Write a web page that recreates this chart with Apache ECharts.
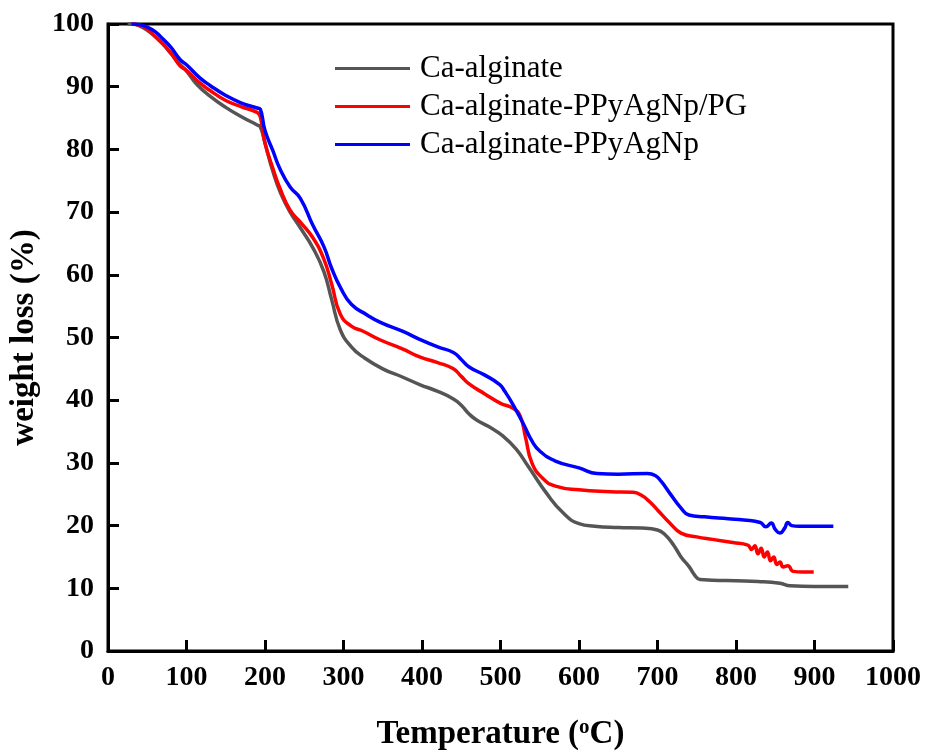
<!DOCTYPE html>
<html>
<head>
<meta charset="utf-8">
<script src="https://cdn.jsdelivr.net/npm/echarts@6/dist/echarts.min.js"></script>
<style>
html, body { margin: 0; padding: 0; background: #fff; }
#chart0 { width: 936px; height: 756px; }
</style>
</head>
<body>
<div id="chart0"></div>
<script>
'use strict';

// Ca-alginate
var gray_t = [25, 30, 40, 50, 60, 70, 80, 90, 100, 113, 130, 150, 170, 190, 194, 200, 210, 220, 232, 245, 261, 275, 285, 296, 310, 325, 350, 375, 397, 420, 440, 450, 460, 470, 485, 503, 520, 535, 559, 580, 600, 620, 650, 680, 700, 710, 720, 730, 740, 748, 754, 770, 800, 828, 856, 869, 900, 943];
var gray_w = [100, 100, 99.7, 99, 98, 96.8, 95.3, 93.8, 92.5, 90.4, 88.5, 86.7, 85.2, 83.9, 83.6, 81, 76.5, 73, 70, 67.5, 64.3, 60.5, 56, 51.2, 48.5, 46.9, 45, 43.7, 42.5, 41.4, 40.2, 39.2, 37.8, 36.8, 35.8, 34.3, 32.2, 29.5, 25.1, 22, 20.3, 19.9, 19.7, 19.6, 19.3, 18.5, 17, 15, 13.5, 12, 11.4, 11.3, 11.2, 11.1, 10.8, 10.4, 10.3, 10.3];

// Ca-alginate-PPyAgNp/PG
var red_t = [30, 40, 50, 60, 70, 80, 92, 100, 117, 130, 150, 170, 190, 194, 200, 210, 219, 232, 245, 261, 275, 285, 296, 310, 325, 347, 375, 397, 420, 440, 450, 460, 480, 500, 516, 525, 532, 540, 554, 570, 600, 640, 669, 680, 690, 700, 715, 730, 750, 770, 796, 815, 820, 824, 828, 832, 836, 840, 844, 848, 852, 856, 860, 866, 873, 885, 899];
var red_w = [100, 99.8, 99.2, 98, 96.8, 95.4, 93.3, 92.6, 90.6, 89.4, 87.8, 86.8, 85.9, 85.2, 81, 77, 73.8, 70.3, 68.4, 65.9, 62.5, 58.5, 53.7, 51.8, 51, 49.6, 48.2, 46.9, 46, 45, 43.8, 42.6, 41, 39.5, 38.7, 37.5, 34, 30, 27.5, 26.3, 25.7, 25.4, 25.3, 24.8, 23.8, 22.5, 20.5, 18.8, 18.2, 17.8, 17.3, 16.9, 16.2, 16.8, 15.5, 16.4, 15.0, 15.8, 14.4, 15.0, 13.8, 14.2, 13.4, 13.6, 12.7, 12.6, 12.6];

// Ca-alginate-PPyAgNp
var blue_t = [30, 40, 50, 60, 70, 80, 92, 100, 117, 130, 150, 170, 190, 194, 200, 210, 219, 232, 245, 261, 275, 285, 296, 310, 330, 347, 375, 397, 420, 440, 450, 460, 480, 499, 505, 515, 530, 540, 550, 570, 600, 623, 650, 687, 697, 705, 716, 730, 740, 760, 790, 810, 831, 838, 845, 850, 856, 862, 866, 871, 880, 924];
var blue_w = [100, 99.9, 99.5, 98.8, 97.6, 96.3, 94.3, 93.5, 91.4, 90.2, 88.6, 87.4, 86.6, 86.4, 83, 79.8, 76.9, 74, 72.2, 67.9, 64.5, 61, 58, 55.3, 53.6, 52.4, 51, 49.7, 48.5, 47.6, 46.5, 45.3, 44, 42.5, 41.5, 39.5, 36, 33.5, 31.9, 30.3, 29.2, 28.3, 28.2, 28.3, 28.0, 27.0, 25.1, 22.8, 21.7, 21.4, 21.1, 20.9, 20.5, 19.8, 20.4, 19.4, 18.8, 19.6, 20.5, 20.0, 19.9, 19.9];

var series_names = ['Ca-alginate', 'Ca-alginate-PPyAgNp/PG', 'Ca-alginate-PPyAgNp'];
var series_colors = ['#555555', '#ff0000', '#0000ff'];

function pairs(t, w) {
	var out = [];
	for (var i = 0; i < t.length; i++) {
		out.push([t[i], w[i]]);
	}
	return out;
}

var font = '"Liberation Serif", "Times New Roman", serif';
var all_data = [pairs(gray_t, gray_w), pairs(red_t, red_w), pairs(blue_t, blue_w)];

var chart0 = echarts.init(document.getElementById('chart0'));
var series_list = [];
for (var k = 0; k < 3; k++) {
	series_list.push({
		name : series_names[k],
		type : 'line',
		smooth : 0.5,
		symbol : 'none',
		lineStyle : { color : series_colors[k], width : 3.5, join : 'round' },
		itemStyle : { color : series_colors[k] },
		data : all_data[k]
	});
}

chart0.setOption({
	animation : false,
	grid : {
		left : 108, right : 43, top : 24, bottom : 99,
		show : true, borderColor : '#000', borderWidth : 3
	},
	legend : {
		orient : 'vertical',
		left : 335, top : 53, padding : 0,
		icon : 'rect',
		itemWidth : 75, itemHeight : 3, itemGap : 7,
		data : series_names,
		textStyle : { fontFamily : font, fontSize : 31, color : '#000', lineHeight : 31, padding : [0, 0, 0, 5] }
	},
	xAxis : {
		type : 'value', min : 0, max : 1000, interval : 100,
		name : 'Temperature ({sup|o}C)',
		nameLocation : 'middle', nameGap : 66,
		nameTextStyle : {
			fontFamily : font, fontSize : 33, fontWeight : 'bold', color : '#000',
			rich : { sup : { fontFamily : font, fontSize : 21, fontWeight : 'bold', color : '#000', verticalAlign : 'top', padding : [0, 0, 14, 0] } }
		},
		axisLine : { lineStyle : { color : '#000', width : 3 } },
		axisTick : { inside : true, length : 11, lineStyle : { width : 3, color : '#000' } },
		axisLabel : {
			fontFamily : font, fontSize : 28, fontWeight : 'bold', color : '#000', margin : 13,
			formatter : function(v) { return String(v); }
		},
		splitLine : { show : false }
	},
	yAxis : {
		type : 'value', min : 0, max : 100, interval : 10,
		name : 'weight loss (%)',
		nameLocation : 'middle', nameGap : 59,
		nameTextStyle : { fontFamily : font, fontSize : 33, fontWeight : 'bold', color : '#000' },
		axisLine : { lineStyle : { color : '#000', width : 3 } },
		axisTick : { inside : true, length : 11, lineStyle : { width : 3, color : '#000' } },
		axisLabel : { fontFamily : font, fontSize : 28, fontWeight : 'bold', color : '#000', margin : 14 },
		splitLine : { show : false }
	},
	series : series_list
});
</script>
</body>
</html>
